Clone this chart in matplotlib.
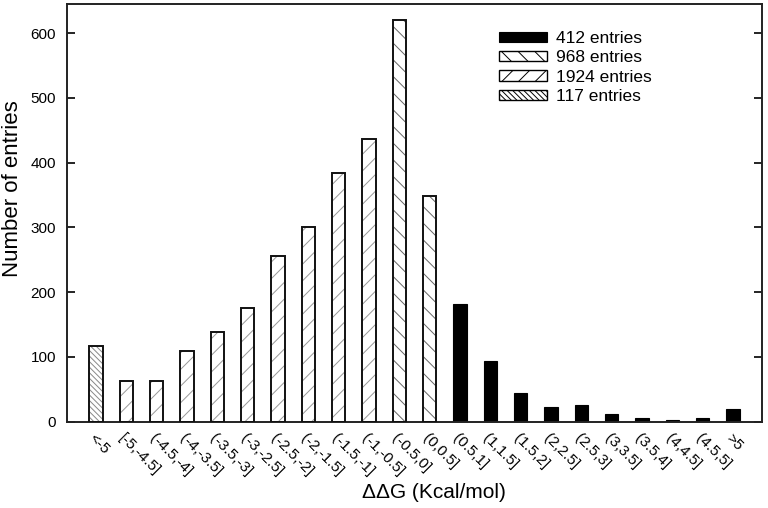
import matplotlib
matplotlib.use("Agg")
import matplotlib.pyplot as plt
from matplotlib.patches import Patch

plt.rcParams['font.family'] = ['Liberation Sans', 'DejaVu Sans']
plt.rcParams['hatch.linewidth'] = 0.7

categories = ['<-5', '[-5,-4.5]', '(-4.5,-4]', '(-4,-3.5]', '(-3.5,-3]', '(-3,-2.5]',
              '(-2.5,-2]', '(-2,-1.5]', '(-1.5,-1]', '(-1,-0.5]', '(-0.5,0]', '(0,0.5]',
              '(0.5,1]', '(1,1.5]', '(1.5,2]', '(2,2.5]', '(2.5,3]', '(3,3.5]',
              '(3.5,4]', '(4,4.5]', '(4.5,5]', '>5']
values = [117, 63, 63, 109, 138, 176, 255, 300, 384, 436, 620, 349,
          181, 94, 44, 22, 25, 12, 6, 3, 6, 19]
# group of each bar: 0 -> 412 entries, 1 -> 968, 2 -> 1924, 3 -> 117
groups = [3, 2, 2, 2, 2, 2, 2, 2, 2, 2, 1, 1,
          0, 0, 0, 0, 0, 0, 0, 0, 0, 0]
legend_labels = ['412 entries', '968 entries', '1924 entries', '117 entries']
yticks = [0, 100, 200, 300, 400, 500, 600]

hatches = [None, '\\\\', '//', '\\\\\\\\\\\\']
hatch_cols = [None, '#666666', '#999999', '#888888']

fig = plt.figure(figsize=(7.68, 5.08), dpi=100)
ax_l, ax_r, ax_t, ax_b = 67, 762, 4, 421.5
ax = fig.add_axes([ax_l/768, 1-ax_b/508, (ax_r-ax_l)/768, (ax_b-ax_t)/508])

x = list(range(len(categories)))
w = 0.44
for xi, v, g in zip(x, values, groups):
    if g == 0:
        ax.bar(xi, v, width=w, color='black', edgecolor='black', linewidth=0.8, zorder=2)
    else:
        ax.bar(xi, v, width=w, color='white', edgecolor=hatch_cols[g], hatch=hatches[g],
               linewidth=0, zorder=2)
        ax.bar(xi, v, width=w, fill=False, edgecolor='#111111', linewidth=1.4, zorder=3)

ax.set_xlim(-0.95, len(categories) - 1 + 0.95)
ax.set_ylim(0, 645)
ax.set_yticks(yticks)
ax.set_xticks(x)
ax.set_xticklabels(categories, rotation=-45, ha='left', va='top',
                   rotation_mode='anchor', fontsize=11)
ax.tick_params(axis='x', length=0, pad=7)
ax.tick_params(axis='y', direction='in', length=6, width=1.2, pad=8,
               labelsize=11, right=True)
for s in ax.spines.values():
    s.set_linewidth(1.4)
    s.set_color('#222222')

ax.set_ylabel('Number of entries', fontsize=16)
ax.yaxis.set_label_coords((13-ax_l)/(ax_r-ax_l), (ax_b-189)/(ax_b-ax_t))
ax.yaxis.label.set_va('center')
ax.set_xlabel('ΔΔG (Kcal/mol)', fontsize=15)
ax.xaxis.set_label_coords((434-ax_l)/(ax_r-ax_l), (ax_b-492)/(ax_b-ax_t))
ax.xaxis.label.set_va('center')

handles = []
for g in range(4):
    if g == 0:
        handles.append(Patch(facecolor='black', edgecolor='black', linewidth=0.8))
    else:
        handles.append(Patch(facecolor='white', edgecolor='black', hatch=hatches[g],
                             linewidth=1.0))
leg = ax.legend(handles, legend_labels, loc='upper left',
                bbox_to_anchor=((499-ax_l)/(ax_r-ax_l), (ax_b-31)/(ax_b-ax_t)),
                frameon=False, fontsize=12.5, handlelength=2.75, handleheight=0.55,
                labelspacing=0.25, handletextpad=0.55, borderpad=0, borderaxespad=0)

fig.savefig('out.png', dpi=100)
